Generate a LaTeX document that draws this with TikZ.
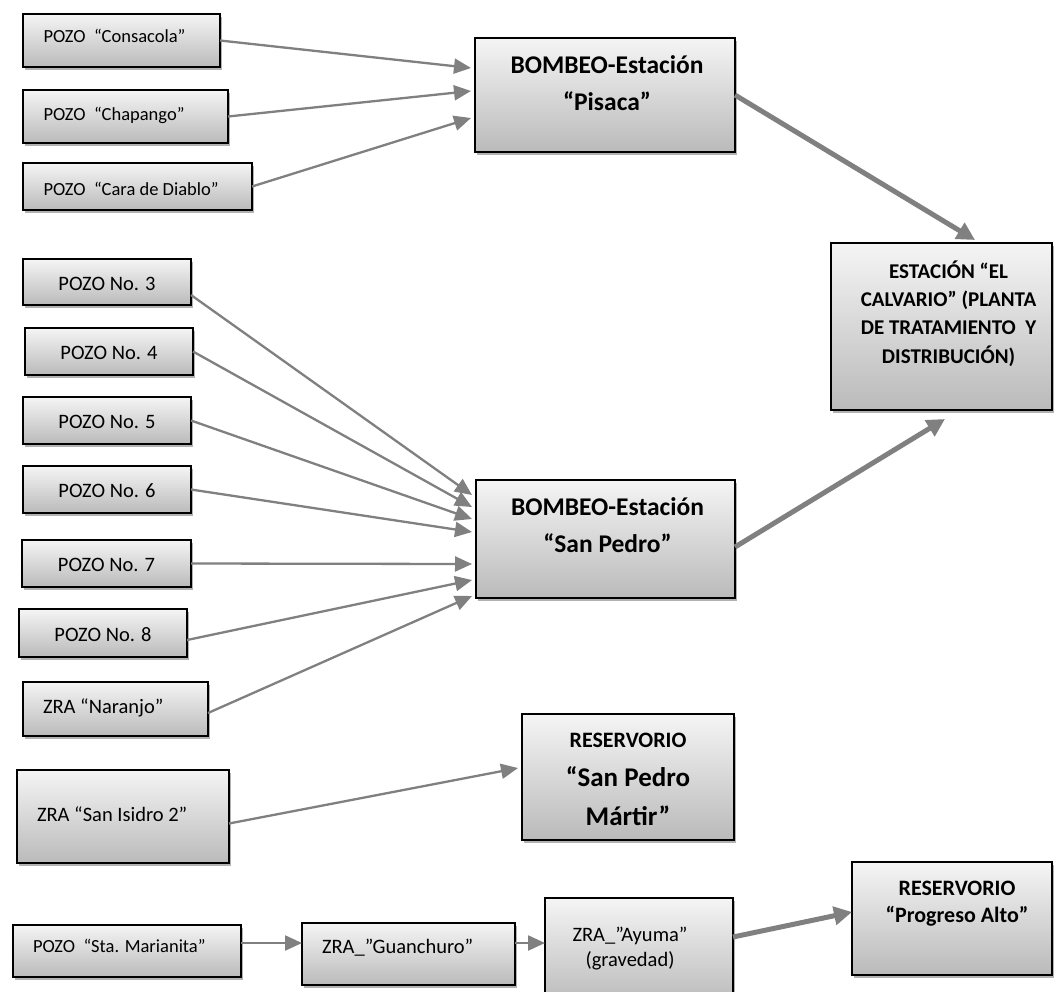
\documentclass[tikz,border=0pt]{standalone}
\usepackage{fontspec}
\setmainfont{Carlito}
\usetikzlibrary{arrows.meta,shadows}
% centred / left-aligned text line at offset (dx, raise of baseline) from node centre
\newcommand\bxc[3]{\hspace*{#1}\makebox[0pt][c]{\raisebox{#2}[0pt][0pt]{#3}}\hspace*{-#1}}
\newcommand\bxl[3]{\hspace*{#1}\makebox[0pt][l]{\raisebox{#2}[0pt][0pt]{#3}}\hspace*{-#1}}
\definecolor{arrowgray}{HTML}{808080}
\begin{document}
\begin{tikzpicture}[x=1pt,y=1pt,
  box/.style={draw=black, line width=1.6pt, top color=black!4, bottom color=black!27,
    inner sep=0pt, outer sep=0pt,
    drop shadow={shadow xshift=2pt, shadow yshift=-3pt, fill=black, opacity=0.3}},
  fsmall/.style={font=\fontsize{18.5}{22}\selectfont},
  fnorm/.style={font=\fontsize{20.5}{25}\selectfont},
  fbold/.style={font=\fontsize{25.5}{31}\selectfont\bfseries},
  thinarrow/.style={draw=arrowgray, line width=2.3pt, -{Triangle[length=17pt,width=15pt]}},
  thickarrow/.style={draw=arrowgray, line width=5pt, -{Triangle[length=18pt,width=18pt]}}]
\fill[white] (0,0) rectangle (1054,-991);
\useasboundingbox (0,0) rectangle (1054,-991);

% top group
\node[box, fsmall, minimum width=197pt, minimum height=53pt] (cons) at (121.5,-40.5)
  {\bxl{-78pt}{-2.1pt}{POZO~~“Consacola”}};
\node[box, fsmall, minimum width=205pt, minimum height=53pt] (chap) at (125.5,-116.5)
  {\bxl{-82pt}{-4.4pt}{POZO~~“Chapango”}};
\node[box, fsmall, minimum width=229pt, minimum height=47pt] (cara) at (137.5,-186.5)
  {\bxl{-94pt}{-9.4pt}{POZO~~“Cara de Diablo”}};
\node[box, fbold, minimum width=260pt, minimum height=114pt] (pis) at (605,-95)
  {\bxc{2pt}{21.8pt}{BOMBEO-Estación}%
   \bxc{2pt}{-15.2pt}{“Pisaca”}};

\node[box, font=\fontsize{21}{25}\selectfont\bfseries, minimum width=221pt, minimum height=167pt] (calv) at (941.5,-326.5)
  {\bxc{7pt}{47.8pt}{ESTACIÓN “EL}%
   \bxc{7pt}{19.8pt}{CALVARIO” (PLANTA}%
   \bxc{7pt}{-8.2pt}{DE TRATAMIENTO~~Y}%
   \bxc{7pt}{-37.2pt}{DISTRIBUCIÓN)}};

% middle group
\node[box, fnorm, minimum width=168pt, minimum height=46pt] (n3) at (107,-282)
  {\bxc{0pt}{-8pt}{POZO No. 3}};
\node[box, fnorm, minimum width=168pt, minimum height=47pt] (n4) at (109,-351.5)
  {\bxc{0pt}{-8pt}{POZO No. 4}};
\node[box, fnorm, minimum width=168pt, minimum height=47pt] (n5) at (107,-420.5)
  {\bxc{0pt}{-8pt}{POZO No. 5}};
\node[box, fnorm, minimum width=168pt, minimum height=47pt] (n6) at (107,-489.5)
  {\bxc{0pt}{-8pt}{POZO No. 6}};
\node[box, fnorm, minimum width=169pt, minimum height=47pt] (n7) at (106.5,-563.5)
  {\bxc{0pt}{-8pt}{POZO No. 7}};
\node[box, fnorm, minimum width=168pt, minimum height=48pt] (n8) at (103,-633)
  {\bxc{0pt}{-8pt}{POZO No. 8}};
\node[box, fnorm, minimum width=185pt, minimum height=54pt] (nar) at (115.5,-709)
  {\bxl{-72.5pt}{-4.3pt}{ZRA “Naranjo”}};
\node[box, fbold, minimum width=259pt, minimum height=118pt] (sp) at (605.5,-539)
  {\bxc{2pt}{23.8pt}{BOMBEO-Estación}%
   \bxc{2pt}{-13.2pt}{“San Pedro”}};

% San Isidro
\node[box, fnorm, minimum width=212pt, minimum height=93pt] (sisid) at (123,-816.5)
  {\bxl{-86pt}{-5.1pt}{ZRA “San Isidro 2”}};
\node[box, font=\bfseries, minimum width=212pt, minimum height=126pt] (mart) at (628,-777)
  {\bxc{0pt}{30pt}{\fontsize{22}{26}\selectfont RESERVORIO}%
   \bxc{0pt}{-9.6pt}{\fontsize{27}{32}\selectfont “San Pedro}%
   \bxc{0pt}{-48.6pt}{\fontsize{27}{32}\selectfont Mártir”}};

% bottom group
\node[box, fsmall, minimum width=228pt, minimum height=52pt] (stam) at (127,-951)
  {\bxl{-94pt}{-1.6pt}{POZO~~“Sta. Marianita”}};
\node[box, fnorm, minimum width=213pt, minimum height=62pt] (guan) at (408.5,-954)
  {\bxl{-86.5pt}{0.4pt}{ZRA\_”Guanchuro”}};
\node[box, fnorm, minimum width=188pt, minimum height=107pt] (ayu) at (639,-951.5)
  {\bxc{-9pt}{9.9pt}{ZRA\_”Ayuma”}%
   \bxc{-9pt}{-15.1pt}{(gravedad)}};
\node[box, font=\fontsize{22}{27}\selectfont\bfseries, minimum width=200pt, minimum height=113pt] (prog) at (952,-918.5)
  {\bxc{5pt}{23.5pt}{RESERVORIO}%
   \bxc{5pt}{-3.5pt}{“Progreso Alto”}};

% connectors
\draw[thinarrow] (cons.east) -- ([xshift=-4pt,yshift=27pt]pis.west);
\draw[thinarrow] (chap.east) -- ([xshift=-4pt,yshift=4pt]pis.west);
\draw[thinarrow] (cara.east) -- ([xshift=-4pt,yshift=-23pt]pis.west);
\draw[thickarrow] (pis.east) -- ([xshift=33.5pt,yshift=3pt]calv.north);

\draw[thinarrow] ([yshift=-13pt]n3.east) -- ([xshift=-4pt,yshift=44pt]sp.west);
\draw[thinarrow] (n4.east) -- ([xshift=-4pt,yshift=32pt]sp.west);
\draw[thinarrow] (n5.east) -- ([xshift=-4pt,yshift=20pt]sp.west);
\draw[thinarrow] (n6.east) -- ([xshift=-4pt,yshift=7pt]sp.west);
\draw[thinarrow] (n7.east) -- ([xshift=-4pt,yshift=-25pt]sp.west);
\draw[thinarrow] ([yshift=-7pt]n8.east) -- ([xshift=-4pt,yshift=-41pt]sp.west);
\draw[thinarrow] ([yshift=-4pt]nar.east) -- ([xshift=-4pt,yshift=-57pt]sp.west);
\draw[thickarrow] ([yshift=-8pt]sp.east) -- ([xshift=3.5pt,yshift=-9pt]calv.south);

\draw[thinarrow] ([yshift=-7pt]sisid.east) -- ([xshift=-4pt,yshift=9pt]mart.west);

\draw[thinarrow] ([yshift=8pt]stam.east) -- ([yshift=11pt]guan.west);
\draw[thinarrow] ([yshift=11pt]guan.east) -- ([yshift=8.5pt]ayu.west);
\draw[thickarrow] ([yshift=14.5pt]ayu.east) -- ([yshift=6.5pt]prog.west);
\end{tikzpicture}
\end{document}
